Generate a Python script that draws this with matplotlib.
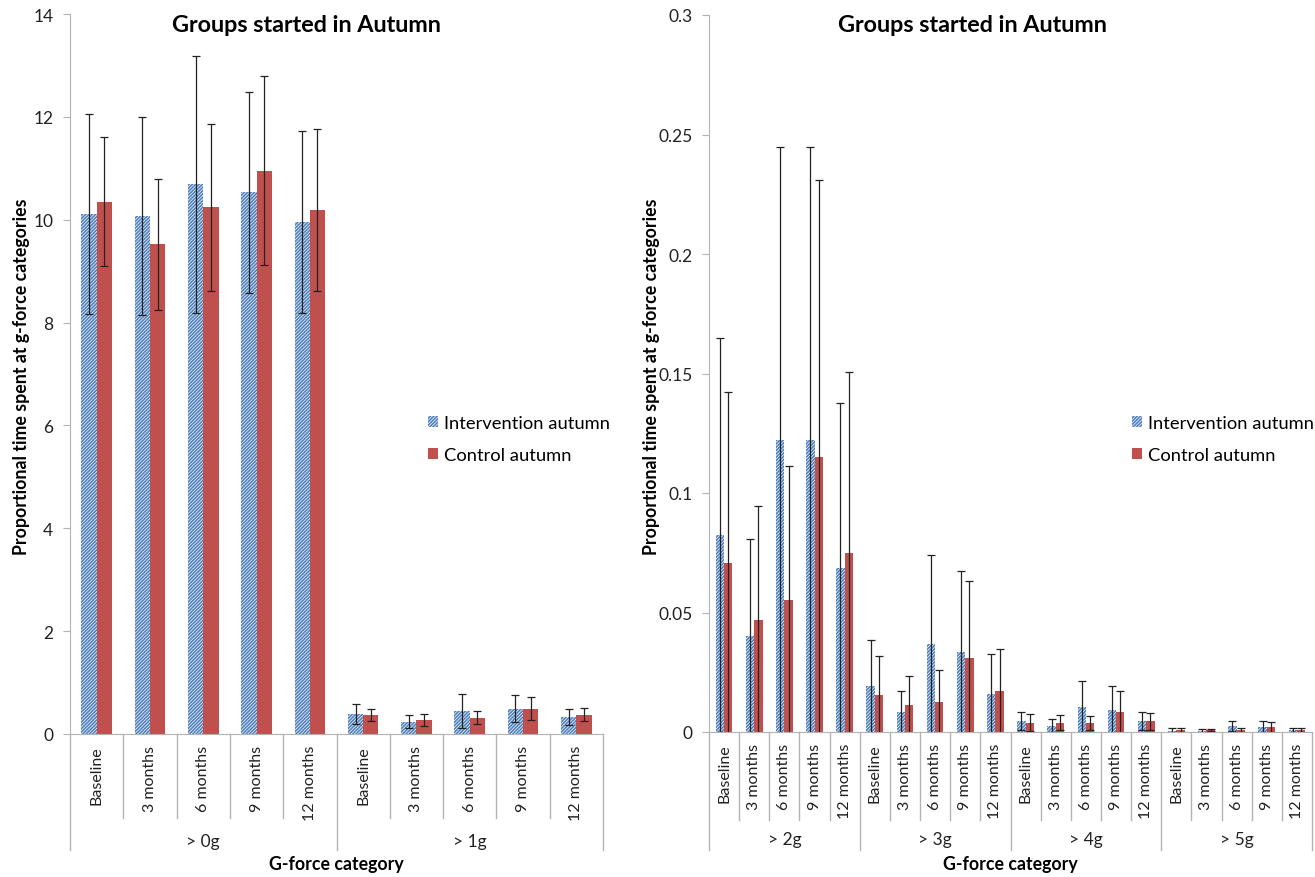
import numpy as np
import matplotlib.pyplot as plt
from matplotlib import transforms

plt.rcParams['font.family'] = ['Lato', 'DejaVu Sans']
plt.rcParams['hatch.linewidth'] = 1.2

timepoints = ["Baseline", "3 months", "6 months", "9 months", "12 months"]

# > 0g and > 1g (left panel)
groups_left = ["> 0g", "> 1g"]
int_left = [10.11, 10.07, 10.69, 10.53, 9.95, 0.39, 0.24, 0.45, 0.49, 0.33]
int_left_err = [1.95, 1.93, 2.50, 1.95, 1.77, 0.19, 0.13, 0.33, 0.26, 0.16]
ctl_left = [10.35, 9.52, 10.24, 10.95, 10.19, 0.375, 0.27, 0.32, 0.49, 0.375]
ctl_left_err = [1.25, 1.28, 1.63, 1.84, 1.58, 0.12, 0.11, 0.12, 0.22, 0.13]

# > 2g ... > 5g (right panel)
groups_right = ["> 2g", "> 3g", "> 4g", "> 5g"]
int_right = [0.0826, 0.0400, 0.1223, 0.1223, 0.0686,
             0.0191, 0.0085, 0.0368, 0.0333, 0.0160,
             0.0047, 0.0026, 0.0105, 0.0092, 0.0047,
             0.0004, 0.0004, 0.0024, 0.0022, 0.0008]
int_right_err = [0.0824, 0.0406, 0.1226, 0.1226, 0.0691,
                 0.0195, 0.0088, 0.0374, 0.0341, 0.0165,
                 0.0038, 0.0027, 0.0107, 0.0099, 0.0038,
                 0.0011, 0.0008, 0.0021, 0.0023, 0.0009]
ctl_right = [0.0708, 0.0469, 0.0552, 0.1151, 0.0750,
             0.0155, 0.0113, 0.0127, 0.0311, 0.0172,
             0.0039, 0.0039, 0.0038, 0.0082, 0.0045,
             0.0008, 0.0008, 0.0008, 0.0020, 0.0008]
ctl_right_err = [0.0715, 0.0475, 0.0560, 0.1157, 0.0755,
                 0.0162, 0.0123, 0.0132, 0.0319, 0.0175,
                 0.0035, 0.0031, 0.0030, 0.0088, 0.0036,
                 0.0007, 0.0005, 0.0007, 0.0020, 0.0009]

blue = '#4F81BD'
red = '#C0504D'
grey = '#B3B3B3'
W, H = 1315, 878

fig = plt.figure(figsize=(13.15, 8.78), dpi=100)


def px_axes(x0, x1, ytop, ybot):
    return fig.add_axes([x0 / W, 1 - ybot / H, (x1 - x0) / W, (ybot - ytop) / H])


def down(px):
    return transforms.ScaledTranslation(0, -px / 100, fig.dpi_scale_trans)


def draw_panel(ax, groups, iv, ie, cv, ce, ymax, step, ticklabels, bw,
               inner_px, outer_px):
    n = len(iv)
    x = np.arange(n)
    ax.bar(x - bw / 2, iv, bw, facecolor='white', edgecolor=blue, hatch='/' * 10,
           linewidth=0, label='Intervention autumn')
    ax.bar(x + bw / 2, cv, bw, color=red, linewidth=0, label='Control autumn')
    ax.errorbar(x - bw / 2, iv, yerr=ie, fmt='none', ecolor='#222222',
                elinewidth=0.9, capsize=3, capthick=0.9)
    ax.errorbar(x + bw / 2, cv, yerr=ce, fmt='none', ecolor='#222222',
                elinewidth=0.9, capsize=3, capthick=0.9)
    ax.set_xlim(-0.5, n - 0.5)
    ax.set_ylim(0, ymax)
    ax.set_yticks(np.arange(0, ymax + step / 2, step))
    ax.set_yticklabels(ticklabels, fontsize=12.5, color='#222222')
    ax.tick_params(axis='y', direction='out', length=5, color=grey, pad=7)
    ax.set_xticks([])
    for s in ['top', 'right']:
        ax.spines[s].set_visible(False)
    for s in ['left', 'bottom']:
        ax.spines[s].set_color(grey)

    # two-level category axis: time points, then g-force groups
    tr = ax.get_xaxis_transform()
    hax = ax.get_position().height * H
    for i in range(n):
        ax.text(i, 0, timepoints[i % 5], transform=tr + down(11), rotation=90,
                ha='center', va='top', fontsize=11.5, color='#222222')
    for k in range(n + 1):
        length = outer_px if k % 5 == 0 else inner_px
        ax.plot([k - 0.5, k - 0.5], [0, -length / hax], transform=tr,
                color=grey, lw=1, clip_on=False)
    for g, name in enumerate(groups):
        ax.text(g * 5 + 2, 0, name, transform=tr + down(107),
                ha='center', va='center', fontsize=12.5, color='#222222')


axL = px_axes(70, 603, 15, 735)
draw_panel(axL, groups_left, int_left, int_left_err, ctl_left, ctl_left_err,
           14, 2, [str(v) for v in range(0, 15, 2)], 0.287, 84, 116)

axR = px_axes(709, 1312, 16, 733)
draw_panel(axR, groups_right, int_right, int_right_err, ctl_right, ctl_right_err,
           0.3, 0.05, ["0", "0.05", "0.1", "0.15", "0.2", "0.25", "0.3"], 0.277,
           88, 118)

for cx, ylx in [(306, 22), (972, 652)]:
    fig.text(cx / W, 1 - 25 / H, "Groups started in Autumn", ha='center',
             va='center', fontsize=16.8, fontweight='bold')
    fig.text(ylx / W, 1 - 377 / H, "Proportional time spent at g-force categories",
             rotation=90, ha='center', va='center', fontsize=12.8, fontweight='bold')

for cx in [336, 1010]:
    fig.text(cx / W, 1 - 865 / H, "G-force category", ha='center', va='center',
             fontsize=12.8, fontweight='bold')

handles, labels = axL.get_legend_handles_labels()
for lx in [428, 1132]:
    fig.legend(handles, labels, loc='center left', bbox_to_anchor=(lx / W, 1 - 440 / H),
               frameon=False, fontsize=13.2, handlelength=0.55, handleheight=0.55,
               handletextpad=0.35, labelspacing=0.85, borderpad=0, borderaxespad=0)

fig.savefig('out.png', dpi=100)
